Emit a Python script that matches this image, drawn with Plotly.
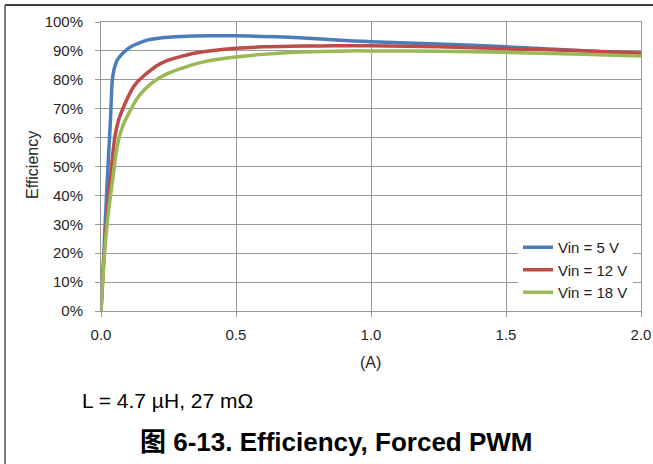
import plotly.graph_objects as go

# ---- data ----
i_5v = [0, 0.011, 0.023, 0.035, 0.042, 0.047, 0.051, 0.06, 0.075, 0.09, 0.112, 0.14, 0.174,
        0.22, 0.3, 0.4, 0.5, 0.6, 0.7, 0.8, 0.92, 1.0, 1.25, 1.5, 1.75, 2.0]
eff_5v = [0, 21, 45, 66, 80, 83, 84.5, 86.8, 88.6, 90.0, 91.5, 92.7, 93.8,
          94.5, 95.0, 95.2, 95.2, 95.0, 94.7, 94.2, 93.5, 93.2, 92.4, 91.4, 90.2, 89.0]

i_12v = [0, 0.012, 0.024, 0.036, 0.051, 0.065, 0.081, 0.1, 0.12, 0.137, 0.16, 0.18, 0.205,
         0.236, 0.27, 0.3, 0.35, 0.4, 0.5, 0.6, 0.7, 0.81, 0.92, 1.0, 1.25, 1.5, 1.75, 2.0]
eff_12v = [0, 20, 35, 47, 60, 66, 70, 74, 77.5, 79.5, 81.5, 83, 84.8,
           86.3, 87.4, 88.2, 89.3, 90.0, 90.9, 91.4, 91.6, 91.7, 91.8, 91.8, 91.4, 90.8, 90.1, 89.3]

i_18v = [0, 0.013, 0.026, 0.044, 0.055, 0.067, 0.085, 0.112, 0.13, 0.15, 0.175, 0.205, 0.25,
         0.3, 0.35, 0.4, 0.5, 0.6, 0.74, 0.92, 1.0, 1.25, 1.5, 1.75, 2.0]
eff_18v = [0, 20, 33, 46, 54, 60, 65, 70, 73, 75.5, 77.8, 80, 82.3,
           84.0, 85.5, 86.6, 87.9, 88.8, 89.6, 90.0, 90.0, 89.9, 89.5, 88.9, 88.2]

series_names = ["Vin = 5 V", "Vin = 12 V", "Vin = 18 V"]
series_colors = ["#4A7EBB", "#BE4B48", "#98B954"]

x_ticks = [0, 0.5, 1.0, 1.5, 2.0]
y_ticks = [v / 10 for v in range(11)]

# ---- figure ----
fig = go.Figure()
for xs, ys, name, color in zip([i_5v, i_12v, i_18v], [eff_5v, eff_12v, eff_18v],
                               series_names, series_colors):
    fig.add_trace(go.Scatter(
        x=xs, y=[v / 100 for v in ys], mode="lines", name=name,
        line=dict(color=color, width=3.5, shape="spline", smoothing=0.8),
    ))

W, H = 653, 464
PL, PT, PW, PH = 101, 22, 540, 289   # plot area in screen pixels
L, T = PL, PT
R, B = W - L - PW, H - T - PH


def px(x):
    return (x - PL) / PW


def py(y):
    return (PT + PH - y) / PH


grid = "#999999"
FONT = "Liberation Sans, Arial, sans-serif"
tick_font = dict(family=FONT, size=15, color="#262626")

fig.update_layout(
    width=W, height=H,
    margin=dict(l=L, r=R, t=T, b=B, pad=0, autoexpand=False),
    paper_bgcolor="white", plot_bgcolor="white",
    showlegend=True,
    legend=dict(
        x=px(518), y=py(231), xanchor="left", yanchor="top",
        bgcolor="white", borderwidth=0,
        font=dict(family=FONT, size=15, color="#222222"),
        tracegroupgap=0, itemwidth=30,
    ),
    xaxis=dict(
        range=[0, 2], tickvals=x_ticks, tickformat=".1f", automargin=False,
        showgrid=True, gridcolor=grid, gridwidth=1,
        showline=True, linecolor=grid, linewidth=1, mirror=True,
        ticks="outside", ticklen=5, tickcolor=grid, ticklabelstandoff=5,
        tickfont=tick_font, zeroline=False,
    ),
    yaxis=dict(
        range=[0, 1], tickvals=y_ticks, tickformat=".0%", automargin=False,
        showgrid=True, gridcolor=grid, gridwidth=1,
        showline=True, linecolor=grid, linewidth=1, mirror=True,
        ticks="outside", ticklen=5, tickcolor=grid, ticklabelstandoff=9,
        tickfont=tick_font, zeroline=False,
    ),
    shapes=[
        dict(type="line", xref="paper", yref="paper", x0=px(5), x1=px(W + 5), y0=py(5), y1=py(5),
             line=dict(color="black", width=1.5)),
        dict(type="line", xref="paper", yref="paper", x0=px(5), x1=px(5), y0=py(5), y1=py(H + 5),
             line=dict(color="#555555", width=1.5)),
    ],
    annotations=[
        dict(text="Efficiency", xref="paper", yref="paper", x=px(32), y=py(165),
             textangle=-90, showarrow=False, xanchor="center", yanchor="middle",
             font=dict(family=FONT, size=16, color="#262626")),
        dict(text="(A)", xref="paper", yref="paper", x=px(370), y=py(362),
             showarrow=False, xanchor="center", yanchor="middle",
             font=dict(family=FONT, size=16, color="#262626")),
        dict(text="L = 4.7 µH, 27 mΩ", xref="paper", yref="paper", x=px(80), y=py(400),
             showarrow=False, xanchor="left", yanchor="middle",
             font=dict(family=FONT, size=21, color="black")),
        dict(text="<b>图 6-13. Efficiency, Forced PWM</b>", xref="paper", yref="paper",
             x=px(336), y=py(442), showarrow=False, xanchor="center", yanchor="middle",
             font=dict(family="Liberation Sans, Noto Sans CJK SC, Arial, sans-serif", size=26,
                       color="black")),
    ],
)

fig.write_html(
    "out.html",
    config={"displayModeBar": False},
    post_script="document.body.style.margin='0px';document.body.style.overflow='hidden';",
)
